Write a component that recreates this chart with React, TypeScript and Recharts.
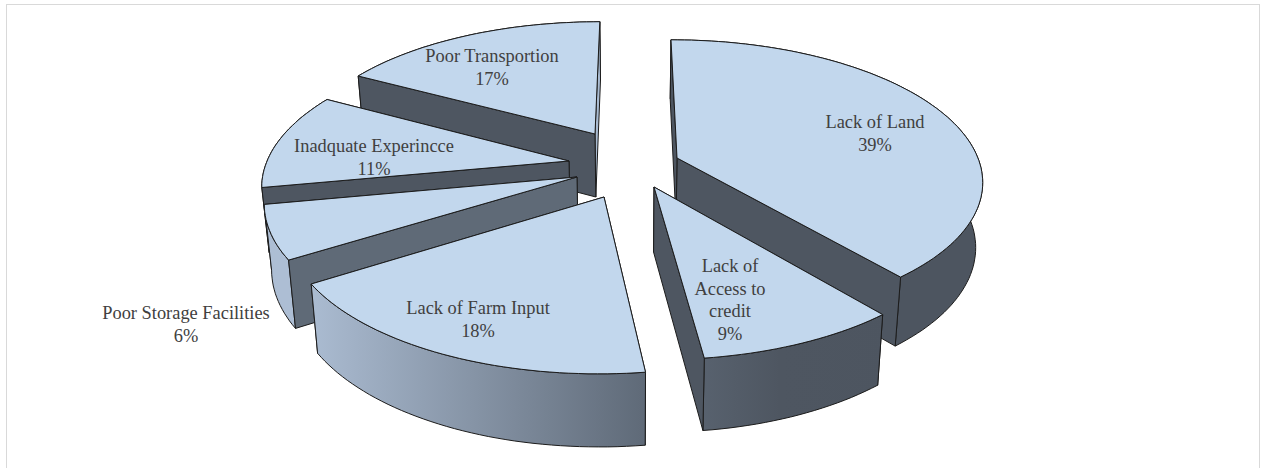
import React from 'react';
import { Pie, PieChart } from 'recharts';

const categories = ['Lack of Land', 'Poor Transportion', 'Inadquate Experincce', 'Poor Storage Facilities', 'Lack of Farm Input', 'Lack of Access to credit'];
const shares = [39, 17, 11, 6, 18, 9];
const labelLines = [['Lack of Land'], ['Poor Transportion'], ['Inadquate Experincce'], ['Poor Storage Facilities'], ['Lack of Farm Input'], ['Lack of', 'Access to', 'credit']];

const data = categories.map((name, i) => ({ name, value: shares[i], lines: labelLines[i] }));

// layout, per slice, same order as categories
const explode = [[45.6, -12.2], [-38.5, -37.5], [-63.6, -9.1], [-54.6, 6.9], [-27.2, 26.2], [21.6, 16.7]];
const labelAt = [[875, 122], [492, 56], [374, 146], [186, 313], [478, 308], [730, 266]];
const wallColors = [['#4e5661', '#4e5661'], ['#a9bbd1', '#4e5661'], ['#4e5661', '#4e5661'], ['#4e5661', '#5f6a77'], ['#5f6a78', '#5f6a78'], ['#4e5661', '#4e5661']];

const CX = 632;
const CY = 170;
const RX = 305;
const RY = 140;
const HORIZON = 900; // distance from CY up to the vanishing line
const TOP = '#c2d7ed';
const EDGE = '#1c1c1c';

// ground plane (px units, x right, y towards viewer) to screen
const project = (gx: number, gy: number) => {
    const w = 1 / (1 - gy / HORIZON);
    return [CX + gx * w, CY + gy * w];
};

// same point at the base of the slab
const drop = ([x, y]: number[]) => [x + (CX - x) * 0.02, y + 63 + (y - 134) * 0.042];

const toPath = (pts: number[][]) => 'M' + pts.map((p) => `${p[0].toFixed(1)},${p[1].toFixed(1)}`).join('L') + 'Z';

// a cut wall faces the viewer when the slice's top lies above its edge
const facesViewer = (apex: number[], end: number[], mid: number[]) => {
    const lineY = apex[1] + ((end[1] - apex[1]) * (mid[0] - apex[0])) / (end[0] - apex[0]);
    return mid[1] < lineY;
};

const Slab = (props: any) => {
    const i = categories.indexOf(props.payload?.name ?? props.name);
    const [ox, oy] = explode[i];
    const apex = project(ox, oy);
    const rim: number[][] = [];
    const steps = Math.ceil(Math.abs(props.endAngle - props.startAngle) / 1.5);
    for (let s = 0; s <= steps; s++) {
        const deg = props.startAngle + ((props.endAngle - props.startAngle) * s) / steps;
        const rad = (deg * Math.PI) / 180;
        rim.push(project(ox + RX * Math.cos(rad), oy - RY * Math.sin(rad)));
    }
    const mid = rim[Math.floor(rim.length / 2)];
    const walls = [rim[0], rim[rim.length - 1]].map((end, k) => ({
        front: facesViewer(apex, end, mid),
        el: <path key={k} d={toPath([apex, end, drop(end), drop(apex)])} fill={wallColors[i][k]} />,
    }));
    return (
        <g stroke={EDGE} strokeWidth={1} strokeLinejoin="round">
            {walls.filter((w) => !w.front).map((w) => w.el)}
            <path d={toPath([...rim, ...rim.map(drop).reverse()])} fill="url(#rimShade)" />
            {walls.filter((w) => w.front).map((w) => w.el)}
            <path d={toPath([apex, ...rim])} fill={TOP} />
        </g>
    );
};

const SliceLabel = (props: any) => {
    const i = categories.indexOf(props.payload?.name ?? props.name);
    const [x, y] = labelAt[i];
    const lines = [...labelLines[i], `${shares[i]}%`];
    return (
        <text x={x} y={y + 6} textAnchor="middle" fill="#404040" fontFamily="'Liberation Serif', serif" fontSize={18.4}>
            {lines.map((line, k) => (
                <tspan key={k} x={x} dy={k === 0 ? 0 : 22.5}>
                    {line}
                </tspan>
            ))}
        </text>
    );
};

export default function App() {
    return (
        <div style={{ position: 'absolute', left: 0, top: 0, width: 1261, height: 468, background: '#fff', overflow: 'hidden' }}>
            <div style={{ position: 'absolute', left: 6, top: 4, width: 1254, height: 470, border: '1.5px solid #d9d9d9', boxSizing: 'border-box' }} />
            <PieChart width={1261} height={468} margin={{ top: 0, right: 0, bottom: 0, left: 0 }} style={{ position: 'absolute', left: 0, top: 0 }}>
                <defs>
                    <linearGradient id="rimShade" gradientUnits="userSpaceOnUse" x1={300} y1={0} x2={900} y2={0}>
                        <stop offset="0" stopColor="#adbed4" />
                        <stop offset="0.575" stopColor="#5f6a78" />
                        <stop offset="0.8" stopColor="#4e5661" />
                        <stop offset="1" stopColor="#4d5560" />
                    </linearGradient>
                </defs>
                <Pie
                    data={data}
                    dataKey="value"
                    nameKey="name"
                    cx={CX}
                    cy={CY}
                    outerRadius={RX}
                    startAngle={-50.4}
                    endAngle={309.6}
                    paddingAngle={0}
                    stroke="none"
                    shape={Slab}
                    label={SliceLabel}
                    labelLine={false}
                    isAnimationActive={false}
                />
            </PieChart>
        </div>
    );
}
